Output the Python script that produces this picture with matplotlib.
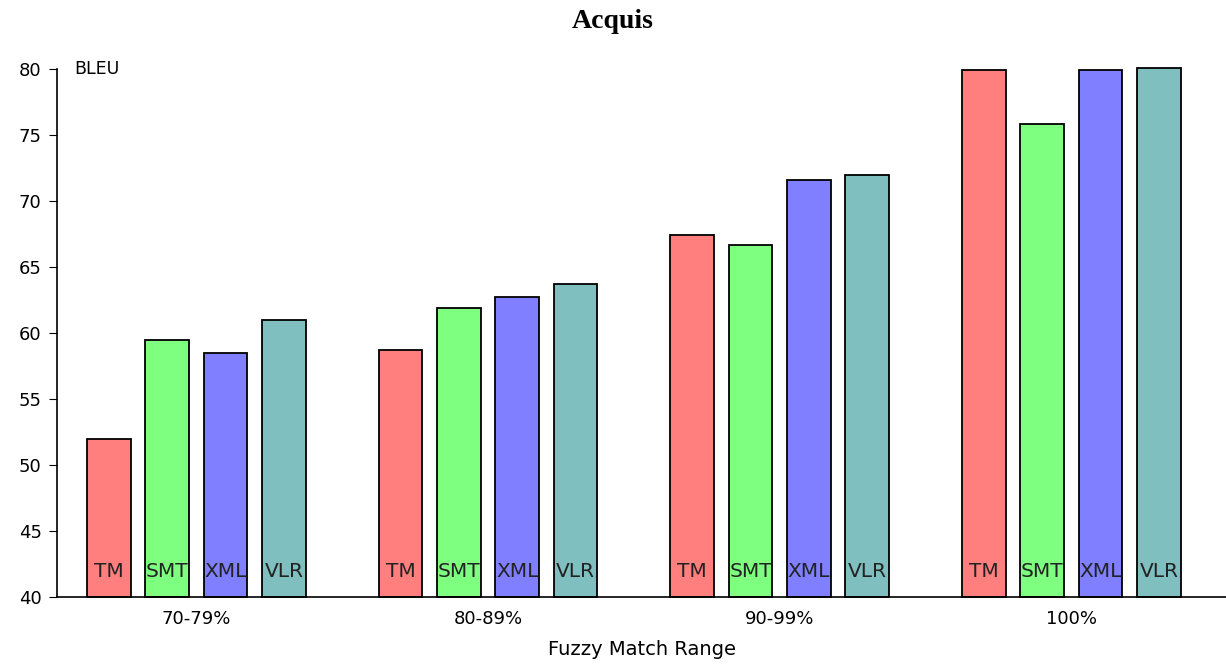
import numpy as np
import matplotlib
matplotlib.use("Agg")
import matplotlib.pyplot as plt

# Data
ranges = ["70-79%", "80-89%", "90-99%", "100%"]
systems = ["TM", "SMT", "XML", "VLR"]
tm = [52.0, 58.7, 67.4, 79.9]
smt = [59.5, 61.9, 66.7, 75.8]
xml = [58.5, 62.7, 71.6, 79.9]
vlr = [61.0, 63.7, 72.0, 80.1]
colors = ["#ff7f7f", "#7fff7f", "#7f7fff", "#7fbfbf"]

series = [tm, smt, xml, vlr]

fig = plt.figure(figsize=(12.26, 6.64), dpi=100)
ax = fig.add_axes([0.0465, 0.1009, 0.9535, 0.7952])

x = np.arange(len(ranges))
step = 0.2
width = 0.15
for i, (name, vals) in enumerate(zip(systems, series)):
    pos = x + (i - 1.5) * step
    ax.bar(pos, np.array(vals) - 40, bottom=40, width=width, color=colors[i],
           edgecolor="black", linewidth=1.3, clip_on=False)
    for p in pos:
        ax.text(p, 41.9, name, ha="center", va="center", fontsize=14.5,
                color="#222222")

ax.set_xlim(-0.478, 3.53)
ax.set_ylim(40, 80)
ax.set_yticks(range(40, 81, 5))
ax.set_xticks(x)
ax.set_xticklabels(ranges)
ax.tick_params(axis="x", length=0, labelsize=13, pad=9)
ax.tick_params(axis="y", length=6, labelsize=13, direction="out", pad=5)
for s in ["top", "right"]:
    ax.spines[s].set_visible(False)
ax.spines["left"].set_linewidth(1.2)
ax.spines["bottom"].set_linewidth(1.2)

ax.text(0.015, 1.0, "BLEU", transform=ax.transAxes, fontsize=12.5, va="center")
ax.set_xlabel("Fuzzy Match Range", fontsize=14, labelpad=9)
fig.text(0.5, 0.968, "Acquis", ha="center", va="center", fontsize=20,
         fontweight="bold", family="Liberation Serif")

fig.savefig("out.png", dpi=100)
